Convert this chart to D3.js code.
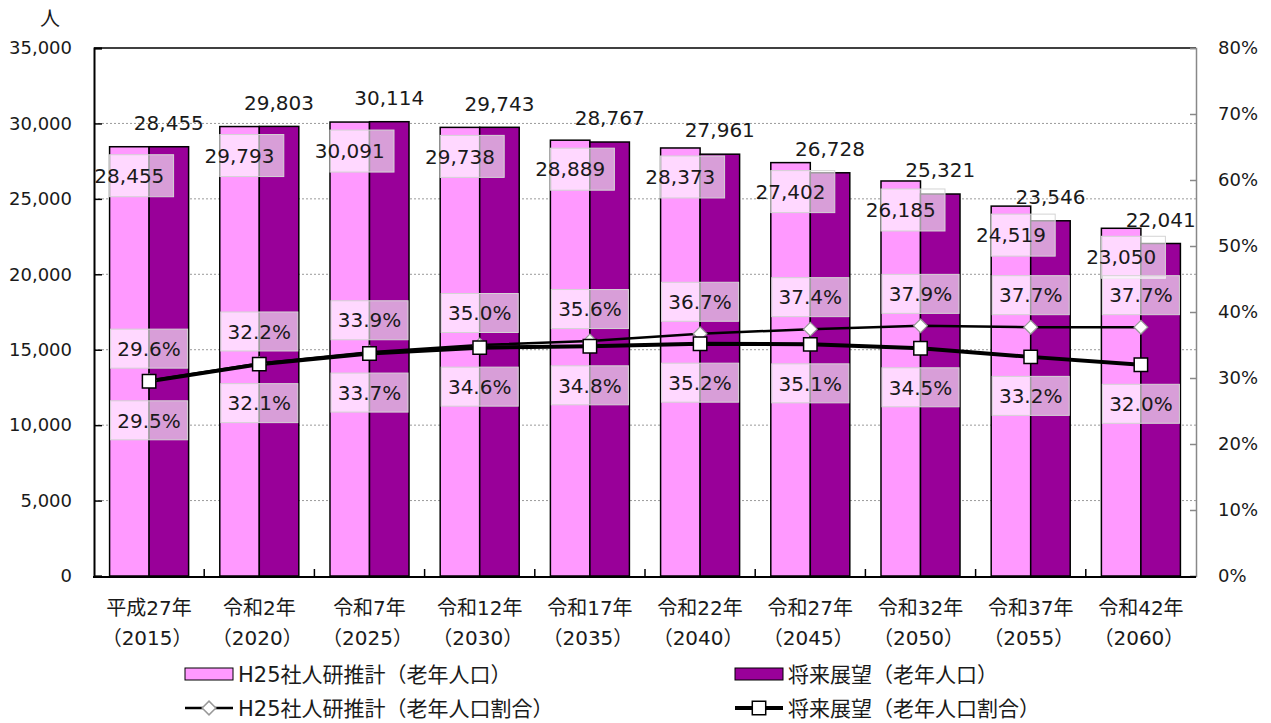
<!DOCTYPE html>
<html>
<head>
<meta charset="utf-8">
<script src="https://cdn.jsdelivr.net/npm/d3@7"></script>
<style>
  body { margin: 0; background: #fff; }
  text { font-family: "DejaVu Sans", "Noto Sans CJK JP", sans-serif; fill: #1a1a1a; }
</style>
</head>
<body>
<script>
// chart data
var yearLabels = ["平成27年", "令和2年", "令和7年", "令和12年", "令和17年", "令和22年", "令和27年", "令和32年", "令和37年", "令和42年"];
var yearNumbers = ["（2015）", "（2020）", "（2025）", "（2030）", "（2035）", "（2040）", "（2045）", "（2050）", "（2055）", "（2060）"];
var h25Pop = [28455, 29793, 30091, 29738, 28889, 28373, 27402, 26185, 24519, 23050];
var futurePop = [28455, 29803, 30114, 29743, 28767, 27961, 26728, 25321, 23546, 22041];
var h25Ratio = [29.6, 32.2, 33.9, 35.0, 35.6, 36.7, 37.4, 37.9, 37.7, 37.7];
var futureRatio = [29.5, 32.1, 33.7, 34.6, 34.8, 35.2, 35.1, 34.5, 33.2, 32.0];
var leftTicks = [0, 5000, 10000, 15000, 20000, 25000, 30000, 35000];
var rightTicks = [0, 10, 20, 30, 40, 50, 60, 70, 80];
var seriesNames = ["H25社人研推計（老年人口）", "将来展望（老年人口）", "H25社人研推計（老年人口割合）", "将来展望（老年人口割合）"];

// layout
var width = 1271, height = 723;
var plot = { left: 94, right: 1196, top: 48, bottom: 576 };
var pink = "#ff99ff", purple = "#990099";

var svg = d3.select("body").append("svg")
            .attr("width", width)
            .attr("height", height);

var x = d3.scaleBand()
          .domain(d3.range(yearLabels.length))
          .range([plot.left, plot.right])
          .paddingInner(0.283)
          .paddingOuter(0.1415);
var xSub = d3.scaleBand()
             .domain([0, 1])
             .range([0, x.bandwidth()]);
var y = d3.scaleLinear().domain([0, 35000]).range([plot.bottom, plot.top]);
var yR = d3.scaleLinear().domain([0, 80]).range([plot.bottom, plot.top]);
var step = x.step();
var fmt = d3.format(",");

// grid lines
svg.append("g")
   .selectAll("line")
   .data(leftTicks.slice(1, -1))
   .enter().append("line")
   .attr("x1", plot.left).attr("x2", plot.right)
   .attr("y1", function(d) { return y(d); })
   .attr("y2", function(d) { return y(d); })
   .attr("stroke", "#9a9a9a")
   .attr("stroke-width", 1)
   .attr("stroke-dasharray", "2,2");

// top border
svg.append("line")
   .attr("x1", plot.left).attr("x2", plot.right)
   .attr("y1", plot.top).attr("y2", plot.top)
   .attr("stroke", "#000").attr("stroke-width", 1.5);

// bars
var groups = svg.append("g").selectAll("g")
                .data(d3.range(yearLabels.length))
                .enter().append("g")
                .attr("transform", function(i) { return "translate(" + x(i) + ",0)"; });

groups.append("rect")
      .attr("x", xSub(0))
      .attr("y", function(i) { return y(h25Pop[i]); })
      .attr("width", xSub.bandwidth())
      .attr("height", function(i) { return y(0) - y(h25Pop[i]); })
      .attr("fill", pink)
      .attr("stroke", "#000")
      .attr("stroke-width", 1.5);

groups.append("rect")
      .attr("x", xSub(1))
      .attr("y", function(i) { return y(futurePop[i]); })
      .attr("width", xSub.bandwidth())
      .attr("height", function(i) { return y(0) - y(futurePop[i]); })
      .attr("fill", purple)
      .attr("stroke", "#000")
      .attr("stroke-width", 1.5);

// left axis
var leftAxis = svg.append("g")
   .attr("transform", "translate(" + plot.left + ",0)")
   .call(d3.axisLeft(y).tickValues(leftTicks).tickSize(-8).tickPadding(22).tickFormat(fmt));
leftAxis.select(".domain").attr("stroke", "#000").attr("stroke-width", 2);
leftAxis.selectAll(".tick line").attr("stroke", "#000").attr("stroke-width", 1.5);
leftAxis.selectAll("text").style("font-size", "18px").attr("fill", "#1a1a1a");

// right axis
var rightAxis = svg.append("g")
   .attr("transform", "translate(" + plot.right + ",0)")
   .call(d3.axisRight(yR).tickValues(rightTicks).tickSize(-6).tickPadding(22)
           .tickFormat(function(d) { return d + "%"; }));
rightAxis.select(".domain").attr("stroke", "#888").attr("stroke-width", 1.5);
rightAxis.selectAll(".tick line").attr("stroke", "#888").attr("stroke-width", 1.5);
rightAxis.selectAll("text").style("font-size", "18px").attr("fill", "#1a1a1a");

// bottom axis
svg.append("line")
   .attr("x1", plot.left - 1).attr("x2", plot.right)
   .attr("y1", plot.bottom + 1).attr("y2", plot.bottom + 1)
   .attr("stroke", "#000").attr("stroke-width", 2);

svg.append("g").selectAll("line")
   .data(d3.range(1, yearLabels.length))
   .enter().append("line")
   .attr("x1", function(i) { return x(i) - step * x.paddingInner() / 2; })
   .attr("x2", function(i) { return x(i) - step * x.paddingInner() / 2; })
   .attr("y1", plot.bottom + 1).attr("y2", plot.bottom - 7)
   .attr("stroke", "#000").attr("stroke-width", 1.5);

var xLabels = svg.append("g").selectAll("text")
   .data(d3.range(yearLabels.length))
   .enter().append("text")
   .attr("text-anchor", "middle")
   .style("font-size", "20px");
xLabels.append("tspan")
   .attr("x", function(i) { return x(i) + x.bandwidth() / 2; })
   .attr("y", 615)
   .text(function(i) { return yearLabels[i]; });
xLabels.append("tspan")
   .attr("x", function(i) { return x(i) + x.bandwidth() / 2 - 2; })
   .attr("y", 645)
   .text(function(i) { return yearNumbers[i]; });

// unit
svg.append("text")
   .attr("x", 50).attr("y", 26)
   .attr("text-anchor", "middle")
   .style("font-size", "20px")
   .text("人");

// ratio lines
function cx(i) { return x(i) + x.bandwidth() / 2; }

var line = d3.line()
             .x(function(d, i) { return cx(i); });

svg.append("path")
   .datum(h25Ratio)
   .attr("d", line.y(function(d) { return yR(d); }))
   .attr("fill", "none")
   .attr("stroke", "#000")
   .attr("stroke-width", 2.5);

svg.append("path")
   .datum(futureRatio)
   .attr("d", line.y(function(d) { return yR(d); }))
   .attr("fill", "none")
   .attr("stroke", "#000")
   .attr("stroke-width", 4);

var diamond = d3.symbol().type(d3.symbolDiamond2).size(120);
var square = d3.symbol().type(d3.symbolSquare).size(180);

svg.append("g").selectAll("path")
   .data(h25Ratio)
   .enter().append("path")
   .attr("d", diamond)
   .attr("transform", function(d, i) { return "translate(" + cx(i) + "," + yR(d) + ")"; })
   .attr("fill", "#fff")
   .attr("stroke", "#999")
   .attr("stroke-width", 1.2);

svg.append("g").selectAll("path")
   .data(futureRatio)
   .enter().append("path")
   .attr("d", square)
   .attr("transform", function(d, i) { return "translate(" + cx(i) + "," + yR(d) + ")"; })
   .attr("fill", "#fff")
   .attr("stroke", "#000")
   .attr("stroke-width", 1.5);

// data labels
var labels = svg.append("g");
var boxFill = "#fff", boxOpacity = 0.62, boxStroke = "#d4d4d4";

// H25 population labels (inside top of pink bar, with box)
labels.selectAll("rect.pop")
      .data(h25Pop)
      .enter().append("rect")
      .attr("class", "pop")
      .attr("x", function(d, i) { return x(i); })
      .attr("y", function(d) { return y(d) + 8; })
      .attr("width", 64)
      .attr("height", 42)
      .attr("fill", boxFill).attr("fill-opacity", boxOpacity)
      .attr("stroke", boxStroke);

labels.selectAll("text.pop")
      .data(h25Pop)
      .enter().append("text")
      .attr("class", "pop")
      .attr("x", function(d, i) { return x(i) + xSub(0) + xSub.bandwidth() / 2; })
      .attr("y", function(d) { return y(d) + 29; })
      .attr("dy", "0.36em")
      .attr("text-anchor", "middle")
      .style("font-size", "20px")
      .text(function(d) { return fmt(d); });

// future population labels (above purple bar)
labels.selectAll("text.fut")
      .data(futurePop)
      .enter().append("text")
      .attr("class", "fut")
      .attr("x", function(d, i) { return x(i) + xSub(1) + xSub.bandwidth() / 2; })
      .attr("y", function(d) { return y(d) - 24; })
      .attr("dy", "0.36em")
      .attr("text-anchor", "middle")
      .style("font-size", "20px")
      .text(function(d) { return fmt(d); });

// ratio labels
function ratioLabels(data, offset, cls) {
  labels.selectAll("rect." + cls)
        .data(data)
        .enter().append("rect")
        .attr("class", cls)
        .attr("x", function(d, i) { return x(i) + 1; })
        .attr("y", function(d) { return yR(d) + offset - 19.5; })
        .attr("width", x.bandwidth() - 2)
        .attr("height", 39)
        .attr("fill", boxFill).attr("fill-opacity", boxOpacity)
        .attr("stroke", boxStroke);
  labels.selectAll("text." + cls)
        .data(data)
        .enter().append("text")
        .attr("class", cls)
        .attr("x", function(d, i) { return cx(i); })
        .attr("y", function(d) { return yR(d) + offset; })
        .attr("dy", "0.36em")
        .attr("text-anchor", "middle")
        .style("font-size", "20px")
        .text(function(d) { return d.toFixed(1) + "%"; });
}
ratioLabels(h25Ratio, -32, "r1");
ratioLabels(futureRatio, 39, "r2");

// legend
var legend = svg.append("g").style("font-size", "21px");
var legendItems = [
  { x: 185, y: 674, type: "bar", color: pink },
  { x: 735, y: 674, type: "bar", color: purple },
  { x: 185, y: 708, type: "diamond" },
  { x: 735, y: 708, type: "square" }
];

legendItems.forEach(function(item, i) {
  var g = legend.append("g").attr("transform", "translate(" + item.x + "," + item.y + ")");
  if (item.type == "bar") {
    g.append("rect")
     .attr("x", 0).attr("y", -6)
     .attr("width", 48).attr("height", 12)
     .attr("fill", item.color)
     .attr("stroke", "#000").attr("stroke-width", 1);
  } else {
    g.append("line")
     .attr("x1", 0).attr("x2", 48)
     .attr("stroke", "#000")
     .attr("stroke-width", item.type == "diamond" ? 2.5 : 4);
    g.append("path")
     .attr("d", item.type == "diamond" ? diamond : square)
     .attr("transform", "translate(24,0)")
     .attr("fill", "#fff")
     .attr("stroke", item.type == "diamond" ? "#999" : "#000")
     .attr("stroke-width", 1.5);
  }
  g.append("text")
   .attr("x", 53)
   .attr("dy", "0.36em")
   .text(seriesNames[i]);
});
</script>
</body>
</html>
